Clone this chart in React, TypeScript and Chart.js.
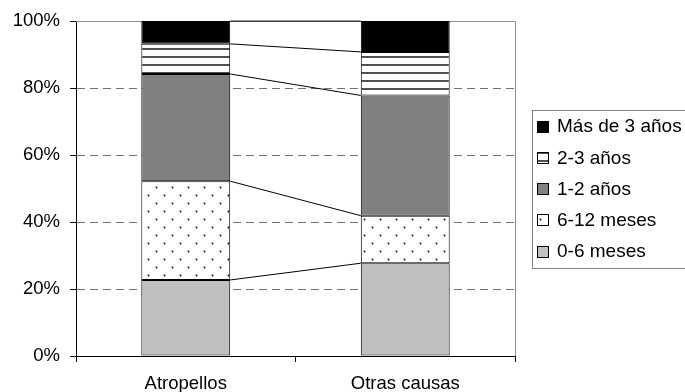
import React, { useEffect, useRef } from "react";
import { Chart, registerables } from "chart.js";

Chart.register(...registerables);

const categories = ["Atropellos", "Otras causas"];
const seriesLabels = ["0-6 meses", "6-12 meses", "1-2 años", "2-3 años", "Más de 3 años"];
const s06 = [22.7, 27.7];
const s612 = [29.5, 14.2];
const s12 = [32.0, 35.9];
const s23 = [9.0, 13.0];
const s3plus = [6.8, 9.2];
const yTicks = [0, 20, 40, 60, 80, 100];

const FONT = "'Liberation Sans', Arial, sans-serif";

function makeDots(): CanvasPattern | string {
  const c = document.createElement("canvas");
  c.width = 16;
  c.height = 16;
  const g = c.getContext("2d");
  if (!g) return "#ffffff";
  g.fillStyle = "#ffffff";
  g.fillRect(0, 0, 16, 16);
  g.fillStyle = "#111111";
  g.beginPath();
  g.arc(4.5, 3.5, 1.0, 0, Math.PI * 2);
  g.arc(12.5, 11.5, 1.0, 0, Math.PI * 2);
  g.fill();
  return g.createPattern(c, "repeat") || "#ffffff";
}

function makeStripes(): CanvasPattern | string {
  const c = document.createElement("canvas");
  c.width = 4;
  c.height = 8;
  const g = c.getContext("2d");
  if (!g) return "#ffffff";
  g.fillStyle = "#ffffff";
  g.fillRect(0, 0, 4, 8);
  g.fillStyle = "#505050";
  g.fillRect(0, 0, 4, 2);
  return g.createPattern(c, "repeat") || "#ffffff";
}

const plotBorder = {
  id: "plotBorder",
  beforeDatasetsDraw(chart: any) {
    const { ctx, chartArea } = chart;
    ctx.save();
    ctx.strokeStyle = "#909090";
    ctx.lineWidth = 1;
    ctx.beginPath();
    ctx.moveTo(chartArea.left, Math.round(chartArea.top) + 0.5);
    ctx.lineTo(Math.round(chartArea.right) + 0.5, Math.round(chartArea.top) + 0.5);
    ctx.lineTo(Math.round(chartArea.right) + 0.5, chartArea.bottom);
    ctx.stroke();
    ctx.restore();
  },
};

const seriesLines = {
  id: "seriesLines",
  afterDatasetsDraw(chart: any) {
    const { ctx } = chart;
    ctx.save();
    ctx.strokeStyle = "#000000";
    ctx.lineWidth = 1;
    chart.data.datasets.forEach((_d: any, i: number) => {
      const meta = chart.getDatasetMeta(i);
      const a = meta.data[0];
      const b = meta.data[1];
      if (!a || !b) return;
      ctx.beginPath();
      ctx.moveTo(a.x + a.width / 2, a.y);
      ctx.lineTo(b.x - b.width / 2, b.y);
      ctx.stroke();
    });
    ctx.restore();
  },
};

const boxLegend = {
  id: "boxLegend",
  afterDraw(chart: any) {
    const { ctx, chartArea } = chart;
    const cy = (chartArea.top + chartArea.bottom) / 2;
    const left = Math.round(chartArea.right) + 17;
    const top = Math.round(cy - 79);
    ctx.save();
    ctx.strokeStyle = "#808080";
    ctx.lineWidth = 1;
    ctx.strokeRect(left + 0.5, top + 0.5, 170, 158);
    const items = chart.data.datasets.map((d: any) => d).reverse();
    items.forEach((d: any, k: number) => {
      const y = cy + (k - 2) * 31.25;
      const bx = left + 5;
      const by = Math.round(y - 5.5);
      ctx.fillStyle = d.backgroundColor;
      ctx.fillRect(bx, by, 11, 11);
      ctx.strokeStyle = "#000000";
      ctx.strokeRect(bx + 0.5, by + 0.5, 11, 11);
      ctx.fillStyle = "#000000";
      ctx.font = `19px ${FONT}`;
      ctx.textBaseline = "middle";
      ctx.textAlign = "left";
      ctx.fillText(d.label, left + 25, y + 1);
    });
    ctx.restore();
  },
};

export default function App() {
  const ref = useRef<HTMLCanvasElement | null>(null);
  useEffect(() => {
    if (!ref.current) return;
    const dots = makeDots();
    const stripes = makeStripes();
    const values = [s06, s612, s12, s23, s3plus];
    const fills: any[] = ["#c0c0c0", dots, "#808080", stripes, "#000000"];
    const chart = new Chart(ref.current, {
      type: "bar",
      data: {
        labels: categories,
        datasets: seriesLabels.map((label, i) => ({
          label,
          data: values[i],
          backgroundColor: fills[i],
          borderColor: "#000000",
          borderWidth: 1,
          borderSkipped: false,
          barPercentage: 0.405,
          categoryPercentage: 1,
        })),
      },
      options: {
        responsive: false,
        animation: false,
        events: [],
        layout: { padding: { top: 21, right: 170, left: 0, bottom: 0 } },
        plugins: { legend: { display: false }, tooltip: { enabled: false } },
        scales: {
          x: {
            stacked: true,
            afterFit: (s: any) => {
              s.height = 36;
            },
            grid: {
              offset: true,
              drawOnChartArea: false,
              drawTicks: true,
              tickLength: 6,
              tickColor: "#000000",
              color: "#000000",
            },
            border: { color: "#000000", width: 1 },
            ticks: {
              color: "#000000",
              padding: 11,
              font: { family: FONT, size: 18.5 },
              maxRotation: 0,
            },
          },
          y: {
            stacked: true,
            min: 0,
            max: 100,
            afterFit: (s: any) => {
              s.width = 76;
            },
            afterBuildTicks: (s: any) => {
              s.ticks = yTicks.map((v) => ({ value: v }));
            },
            grid: {
              color: (c: any) =>
                c.tick && (c.tick.value === 0 || c.tick.value === 100) ? "rgba(0,0,0,0)" : "#707070",
              tickColor: "#000000",
              tickLength: 6,
              tickBorderDash: [],
              drawTicks: true,
            },
            border: { color: "#000000", width: 1, dash: [8, 5] },
            ticks: {
              color: "#000000",
              padding: 10,
              font: { family: FONT, size: 18.5 },
              callback: (v: any) => `${v}%`,
            },
          },
        },
      },
      plugins: [plotBorder, seriesLines, boxLegend],
    });
    return () => chart.destroy();
  }, []);
  return (
    <div style={{ position: "fixed", left: 0, top: 0, width: 685, height: 392, background: "#ffffff" }}>
      <canvas ref={ref} width={685} height={392} style={{ display: "block" }} />
    </div>
  );
}
